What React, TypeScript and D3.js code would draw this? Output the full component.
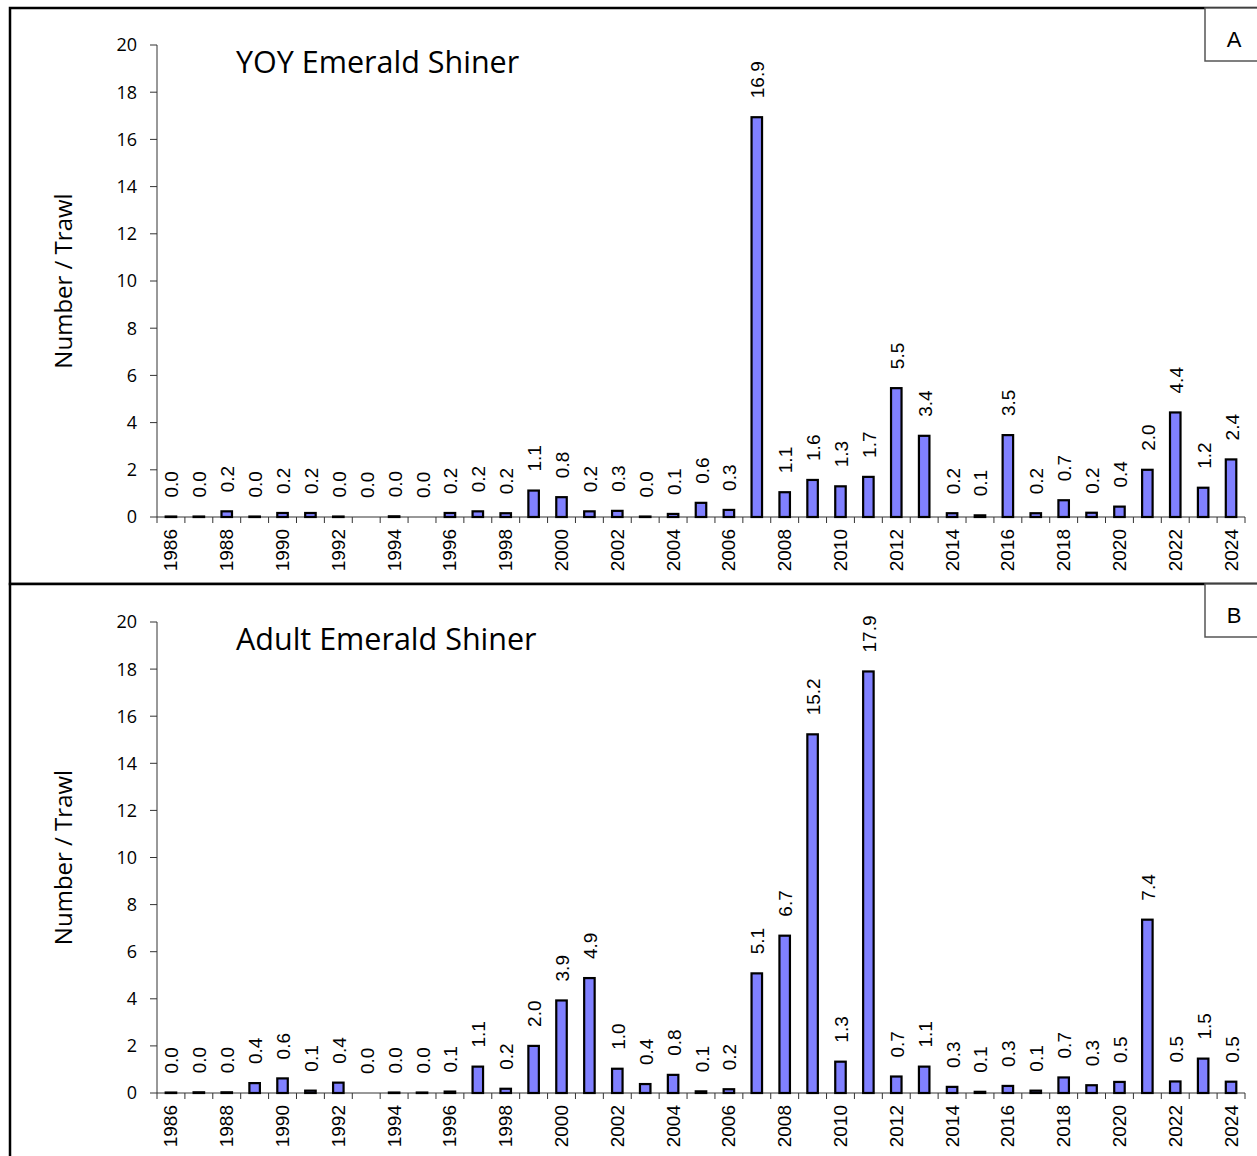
import React from "react";
import * as d3 from "d3";

const years = [
  1986, 1987, 1988, 1989, 1990, 1991, 1992, 1993, 1994, 1995, 1996, 1997, 1998,
  1999, 2000, 2001, 2002, 2003, 2004, 2005, 2006, 2007, 2008, 2009, 2010, 2011,
  2012, 2013, 2014, 2015, 2016, 2017, 2018, 2019, 2020, 2021, 2022, 2023, 2024,
];

// YOY (panel A); 0 means no bar was drawn for that year
const yoyValues = [
  0.02, 0.02, 0.24, 0.02, 0.17, 0.17, 0.02, 0, 0.03, 0, 0.17, 0.24, 0.16,
  1.12, 0.84, 0.24, 0.26, 0.02, 0.13, 0.6, 0.3, 16.94, 1.05, 1.57, 1.3, 1.7,
  5.46, 3.44, 0.16, 0.07, 3.47, 0.16, 0.71, 0.18, 0.44, 2.0, 4.43, 1.24, 2.44,
];

// Adult (panel B)
const adultValues = [
  0.02, 0.03, 0.03, 0.42, 0.62, 0.1, 0.44, 0, 0.02, 0.02, 0.06, 1.12, 0.18,
  2.0, 3.93, 4.88, 1.03, 0.38, 0.77, 0.07, 0.16, 5.08, 6.68, 15.23, 1.33, 17.9,
  0.7, 1.12, 0.26, 0.05, 0.3, 0.1, 0.66, 0.33, 0.47, 7.36, 0.49, 1.46, 0.48,
];

const yTicks = [0, 2, 4, 6, 8, 10, 12, 14, 16, 18, 20];

const humanist = "'Open Sans', 'Noto Sans', sans-serif";
const arial = "'Liberation Sans', Arial, sans-serif";

function Panel({ values, title, letter, frameTop, frameBottom, plotTop, plotBottom }) {
  const x = d3
    .scaleBand()
    .domain(years.map(String))
    .range([157, 1245])
    .padding(0);
  const y = d3.scaleLinear().domain([0, 20]).range([plotBottom, plotTop]);
  const barW = 10.5;
  const step = x.step();
  const tickXs = years.map((yr) => x(String(yr))).concat([x.range()[1]]);

  return (
    <g>
      <rect
        x={10}
        y={frameTop}
        width={1300}
        height={frameBottom - frameTop}
        fill="white"
        stroke="black"
        strokeWidth={2.5}
      />
      <g>
        <rect x={1205} y={frameTop} width={80} height={53} fill="white" stroke="#555" strokeWidth={1.5} />
        <text x={1234} y={frameTop + 39} textAnchor="middle" fontFamily={arial} fontSize={22} fill="black">
          {letter}
        </text>
      </g>

      {/* y axis */}
      <line x1={157} x2={157} y1={y(20)} y2={y(0)} stroke="#333" strokeWidth={1} />
      {yTicks.map((t) => (
        <g key={t}>
          <line x1={150} x2={157} y1={y(t)} y2={y(t)} stroke="#333" strokeWidth={1} />
          <text
            x={137}
            y={y(t)}
            dy="0.36em"
            textAnchor="end"
            fontFamily={humanist}
            fontSize={18}
            fill="black"
          >
            {t}
          </text>
        </g>
      ))}
      <text
        transform={`translate(72, ${(plotTop + plotBottom) / 2}) rotate(-90)`}
        textAnchor="middle"
        fontFamily={humanist}
        fontSize={24}
        fill="black"
      >
        Number / Trawl
      </text>

      {/* x axis */}
      <line x1={157} x2={1245} y1={y(0)} y2={y(0)} stroke="#333" strokeWidth={1} />
      {tickXs.map((tx, i) => (
        <line key={i} x1={tx} x2={tx} y1={y(0)} y2={y(0) + 6} stroke="#333" strokeWidth={1} />
      ))}
      {years
        .filter((yr) => (yr - 1986) % 2 === 0)
        .map((yr) => (
          <text
            key={yr}
            transform={`translate(${x(String(yr)) + step / 2}, ${y(0) + 12}) rotate(-90)`}
            textAnchor="end"
            dominantBaseline="central"
            fontFamily={arial}
            fontSize={19}
            fill="black"
          >
            {yr}
          </text>
        ))}

      {/* bars */}
      {years.map((yr, i) => {
        const v = values[i];
        const cx = x(String(yr)) + step / 2;
        return (
          <g key={yr}>
            {v > 0 && (
              <rect
                x={cx - barW / 2}
                y={y(v)}
                width={barW}
                height={Math.max(y(0) - y(v), 0.5)}
                fill="#8080ff"
                stroke="black"
                strokeWidth={2.2}
              />
            )}
            <text
              transform={`translate(${cx + 1}, ${y(v) - 19}) rotate(-90)`}
              textAnchor="start"
              dominantBaseline="central"
              fontFamily={arial}
              fontSize={19}
              fill="black"
            >
              {v.toFixed(1)}
            </text>
          </g>
        );
      })}

      <text x={236} y={plotTop + 28} fontFamily={humanist} fontSize={30.5} fill="black">
        {title}
      </text>
    </g>
  );
}

export default function App() {
  return (
    <svg
      width={1257}
      height={1156}
      style={{ position: "absolute", left: 0, top: 0, background: "white" }}
    >
      <rect x={0} y={0} width={1257} height={1156} fill="white" />
      <Panel
        values={yoyValues}
        title="YOY Emerald Shiner"
        letter="A"
        frameTop={8}
        frameBottom={584}
        plotTop={45}
        plotBottom={517}
      />
      <Panel
        values={adultValues}
        title="Adult Emerald Shiner"
        letter="B"
        frameTop={584}
        frameBottom={1200}
        plotTop={622}
        plotBottom={1093}
      />
    </svg>
  );
}
